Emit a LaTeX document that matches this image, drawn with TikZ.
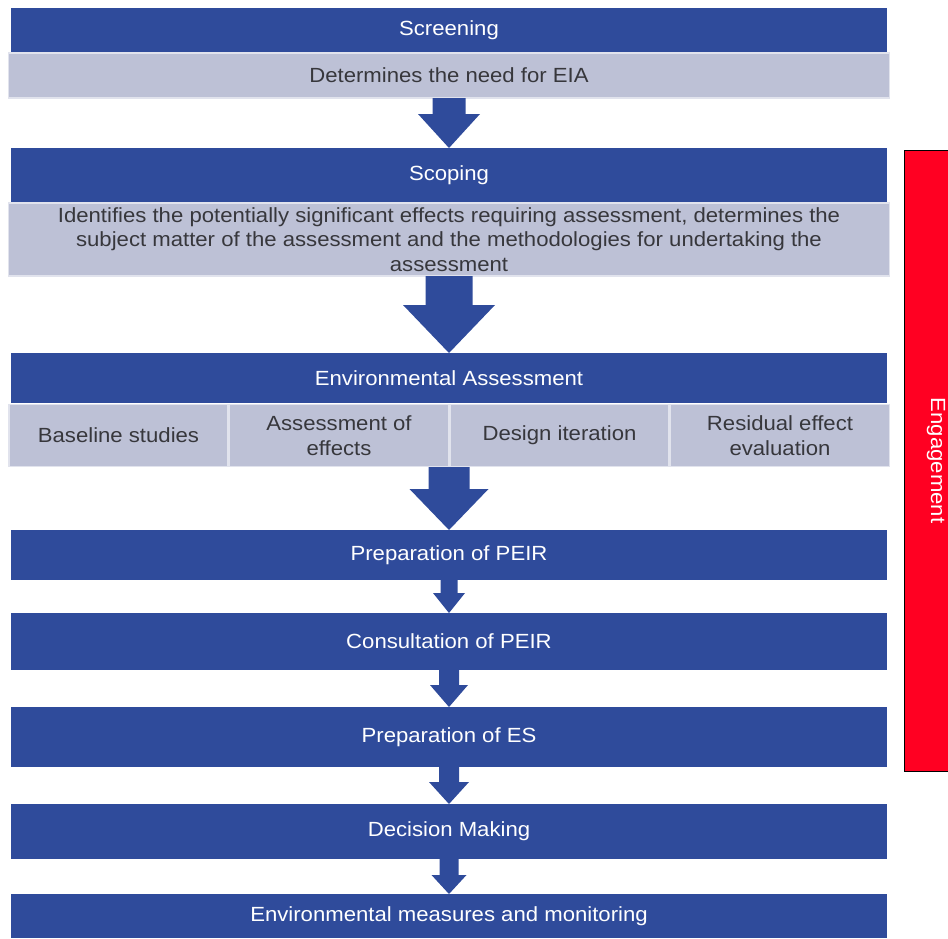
\documentclass[tikz,border=0pt]{standalone}
\usepackage{fontspec}
\setmainfont{Liberation Sans}[FakeStretch=1.08]
\usetikzlibrary{positioning,calc}
\definecolor{eiablue}{RGB}{47,75,155}
\definecolor{eiagrey}{RGB}{189,193,214}
\definecolor{eiared}{RGB}{255,0,34}
\definecolor{eiatext}{RGB}{55,55,60}

% block arrow: from, to, half shaft, half head, head length
\newcommand{\blockarrow}[5]{%
  \fill[eiablue] ($(#1.south)+(-#3,0)$) -- ($(#2.north)+(-#3,-#5)$)
    -- ($(#2.north)+(-#4,-#5)$) -- (#2.north) -- ($(#2.north)+(#4,-#5)$)
    -- ($(#2.north)+(#3,-#5)$) -- ($(#1.south)+(#3,0)$) -- cycle;}

\begin{document}
\begin{tikzpicture}[
    x=1pt, y=-1pt,
    txt/.style={
        font=\fontsize{20.5}{24.5}\selectfont,
        align=center,
        inner sep=0pt,
        outer sep=0pt
    },
    bluebox/.style={
        txt,
        rectangle,
        fill=eiablue,
        text=white,
        minimum width=876pt
    },
    greybox/.style={
        txt,
        rectangle,
        fill=eiagrey,
        draw=eiagrey!45!white,
        line width=1.2pt,
        text=eiatext
    },
    subbox/.style={
        greybox,
        minimum width=219pt,
        minimum height=62pt
    }
]
\useasboundingbox (0,0) rectangle (948,938);

% main stages
\node[bluebox,minimum height=45pt] (screen) at (449,30.5) {Screening};
\node[greybox,minimum width=881pt,minimum height=45pt,below=0pt of screen] (need) {Determines the need for EIA};

\node[bluebox,minimum height=55pt] (scope) at (449,175.5) {Scoping};
\node[greybox,minimum width=881pt,minimum height=73pt,below=0pt of scope] (scopedesc) {Identifies the potentially significant effects requiring assessment, determines the\\subject matter of the assessment and the methodologies for undertaking the\\assessment};

\node[bluebox,minimum height=50pt] (ea) at (449,378) {Environmental Assessment};
\node[subbox] (base) at (118.5,435.5) {Baseline studies};
\node[subbox] (effects) at (339,435.5) {Assessment of\\effects};
\node[subbox] (design) at (559.5,435.5) {Design iteration};
\node[subbox] (resid) at (780,435.5) {Residual effect\\evaluation};

\node[bluebox,minimum height=50pt] (peir) at (449,555) {Preparation of PEIR};
\node[bluebox,minimum height=57pt] (consult) at (449,641.5) {Consultation of PEIR};
\node[bluebox,minimum height=60pt] (es) at (449,737) {Preparation of ES};
\node[bluebox,minimum height=55pt] (decide) at (449,831.5) {Decision Making};
\node[bluebox,minimum height=44pt] (monitor) at (449,916) {Environmental measures and monitoring};

% engagement bar
\node[txt,rotate=-90,fill=eiared,draw=black,line width=1pt,text=white,
      minimum width=621pt,minimum height=64pt] (engage) at (936,460.5) {Engagement};

% arrows
\blockarrow{need}{scope}{16.5}{31}{34}
\blockarrow{scopedesc}{ea}{23.5}{46}{48}
\coordinate (easouth) at (449,467);
\fill[eiablue] ($(easouth)+(-20.5,0)$) -- ($(peir.north)+(-20.5,-41)$) -- ($(peir.north)+(-39.5,-41)$)
    -- (peir.north) -- ($(peir.north)+(39.5,-41)$) -- ($(peir.north)+(20.5,-41)$)
    -- ($(easouth)+(20.5,0)$) -- cycle;
\blockarrow{peir}{consult}{8.5}{16}{20}
\blockarrow{consult}{es}{10}{19}{22}
\blockarrow{es}{decide}{10}{20}{22}
\blockarrow{decide}{monitor}{9.5}{17.5}{19}

\end{tikzpicture}
\end{document}
